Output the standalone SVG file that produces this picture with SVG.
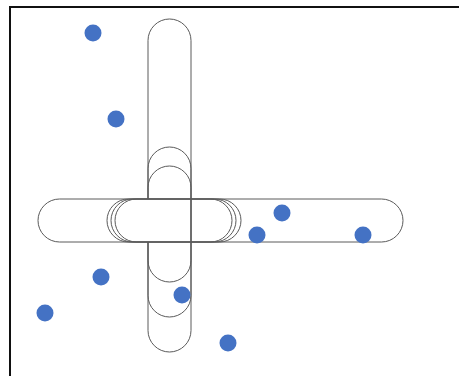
<svg xmlns="http://www.w3.org/2000/svg" width="459" height="376" viewBox="0 0 459 376">
<style>
.cap{fill:none;stroke:#5a5a5a;stroke-width:1}
.dot{fill:#4472C4}
</style>
<rect width="459" height="376" fill="#fff"/>
<path d="M10,376 L10,7 L459,7" fill="none" stroke="#111" stroke-width="2"/>
<g id="vertical-capsules">
<path id="v1" class="cap" d="M148,40.5 A21.5,21.5 0 0 1 191,40.5 L191,260.5 A21.5,21.5 0 0 1 148,260.5 L148,242 M148,199 L148,40.5"/>
<path id="v2" class="cap" d="M148,168.5 A21.5,21.5 0 0 1 191,168.5 L191,295.5 A21.5,21.5 0 0 1 148,295.5 L148,242 M148,199 L148,168.5"/>
<path id="v3" class="cap" d="M148,187.5 A21.5,21.5 0 0 1 191,187.5 L191,330.5 A21.5,21.5 0 0 1 148,330.5 L148,242 M148,199 L148,187.5"/>
</g>
<g id="horizontal-capsules">
<rect id="h1" class="cap" x="38" y="199" width="194" height="43" rx="21.5"/>
<rect id="h2" class="cap" x="107" y="199" width="129" height="43" rx="21.5"/>
<rect id="h3" class="cap" x="111" y="199" width="130" height="43" rx="21.5"/>
<rect id="h4" class="cap" x="115" y="199" width="288" height="43" rx="21.5"/>
</g>
<g id="dots">
<circle class="dot" cx="93" cy="33" r="8.5"/>
<circle class="dot" cx="116" cy="119" r="8.5"/>
<circle class="dot" cx="282" cy="213" r="8.5"/>
<circle class="dot" cx="257" cy="235" r="8.5"/>
<circle class="dot" cx="363" cy="235" r="8.5"/>
<circle class="dot" cx="101" cy="277" r="8.5"/>
<circle class="dot" cx="182" cy="295" r="8.5"/>
<circle class="dot" cx="45" cy="313" r="8.5"/>
<circle class="dot" cx="228" cy="343" r="8.5"/>
</g>
</svg>
